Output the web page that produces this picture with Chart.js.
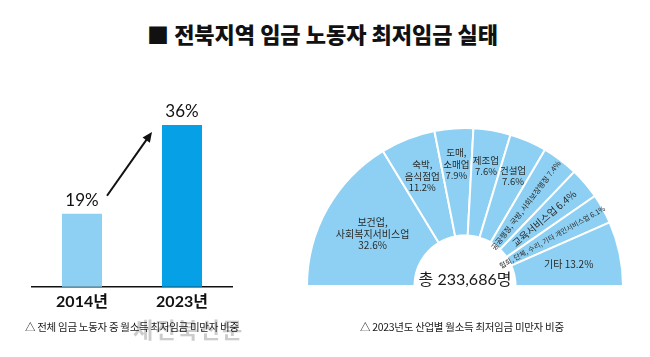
<!DOCTYPE html>
<html><head><meta charset="utf-8">
<script src="https://cdn.jsdelivr.net/npm/chart.js@4"></script>
<style>
html,body{margin:0;padding:0;background:#fff;width:650px;height:357px;overflow:hidden;}
#wrap{position:relative;width:650px;height:357px;}
canvas{position:absolute;}
.t{position:absolute;white-space:nowrap;font-family:"Noto Sans CJK KR","Noto Sans",sans-serif;}
</style></head><body>
<div id="wrap">
<div class="t" id="title" style="left:0;width:645px;text-align:center;top:18px;font-size:22px;font-weight:900;line-height:30px;color:#111;"></div>
<canvas id="bar" width="290" height="357" style="left:0;top:0"></canvas>
<canvas id="pie" width="318" height="160" style="left:306px;top:127px"></canvas>
<div class="t" id="wm" style="left:133px;top:312px;font-size:22px;font-weight:bold;letter-spacing:2px;color:#cccccc;"></div>
<div class="t" id="n1" style="left:25px;top:319px;font-size:10.5px;letter-spacing:-0.3px;color:#1a1a1a;line-height:16px;"></div>
<div class="t" id="n2" style="left:360px;top:319px;font-size:10.5px;letter-spacing:-0.3px;color:#1a1a1a;line-height:16px;"></div>
</div>
<script>
// ---- data ----
const titleText = "■ 전북지역 임금 노동자 최저임금 실태";
const years = ["2014년", "2023년"];
const shareBelowMin = [19, 36];
const industryLines = [
  ["보건업,", "사회복지서비스업"],
  ["숙박,", "음식점업"],
  ["도매,", "소매업"],
  ["제조업"],
  ["건설업"],
  ["공공행정, 국방, 사회보장행정"],
  ["교육서비스업"],
  ["협회, 단체, 수리, 기타 개인서비스업"],
  ["기타"]
];
const industryShares = [32.6, 11.2, 7.9, 7.6, 7.6, 7.4, 6.4, 6.1, 13.2];
const totalWorkers = 233686;
const note1 = "△ 전체 임금 노동자 중 월소득 최저임금 미만자 비중";
const note2 = "△ 2023년도 산업별 월소득 최저임금 미만자 비중";
const watermark = "새전북신문";

// ---- styles ----
const lightBlue = "#8ed0f3";
const darkBlue = "#05a0e6";
const labelMode = ["h","h","h","h","h","r","r","r","hi"];
const labelRadius = [106, 118, 122, 122, 120, 101, 104, 100, 106];
const labelFont = [10, 9.5, 9.5, 9.5, 9.5, 7.5, 10, 7, 10];

document.getElementById('title').textContent = titleText;
document.getElementById('n1').textContent = note1;
document.getElementById('n2').textContent = note2;
document.getElementById('wm').textContent = watermark;

const barDecor = {
  id: 'barDecor',
  afterDatasetsDraw(chart) {
    const ctx = chart.ctx;
    const m = chart.getDatasetMeta(0).data;
    ctx.save();
    ctx.fillStyle = '#111';
    ctx.textAlign = 'center';
    ctx.textBaseline = 'middle';
    ctx.font = '17px Lato, "Noto Sans CJK KR"';
    m.forEach((b, i) => ctx.fillText(shareBelowMin[i] + '%', b.x, b.y - 13));
    // arrow
    const x1 = m[0].x + 25, y1 = m[0].y - 18, x2 = m[1].x - 30, y2 = m[1].y + 7;
    const ang = Math.atan2(y2 - y1, x2 - x1);
    const hl = 11;
    ctx.strokeStyle = '#111';
    ctx.lineWidth = 2;
    ctx.beginPath();
    ctx.moveTo(x1, y1);
    ctx.lineTo(x2 - Math.cos(ang) * hl * 0.8, y2 - Math.sin(ang) * hl * 0.8);
    ctx.stroke();
    ctx.beginPath();
    ctx.moveTo(x2, y2);
    ctx.lineTo(x2 - hl * Math.cos(ang - 0.42), y2 - hl * Math.sin(ang - 0.42));
    ctx.lineTo(x2 - hl * Math.cos(ang + 0.42), y2 - hl * Math.sin(ang + 0.42));
    ctx.closePath();
    ctx.fill();
    ctx.restore();
  }
};

new Chart(document.getElementById('bar'), {
  type: 'bar',
  data: {
    labels: years,
    datasets: [{
      data: shareBelowMin,
      backgroundColor: [lightBlue, darkBlue],
      barPercentage: 0.4,
      categoryPercentage: 1.0
    }]
  },
  options: {
    responsive: false,
    animation: false,
    layout: { padding: { left: 32, right: 58, top: 125, bottom: 41 } },
    plugins: { legend: { display: false }, tooltip: { enabled: false } },
    scales: {
      x: {
        grid: { display: false, drawTicks: false },
        border: { display: true, color: '#111', width: 1.5 },
        ticks: { color: '#111', padding: 5, font: { family: 'Lato, "Noto Sans CJK KR"', size: 16, weight: 'bold' } }
      },
      y: { display: false, min: 5, max: 36 }
    }
  },
  plugins: [barDecor]
});

function fmt(n) { return String(n).replace(/\B(?=(\d{3})+(?!\d))/g, ','); }

const pieLabels = {
  id: 'pieLabels',
  afterDatasetsDraw(chart) {
    const ctx = chart.ctx;
    const arcs = chart.getDatasetMeta(0).data;
    ctx.save();
    ctx.fillStyle = '#2a2a2a';
    ctx.textAlign = 'center';
    ctx.textBaseline = 'middle';
    arcs.forEach((arc, i) => {
      const p = arc.getProps(['x', 'y', 'startAngle', 'endAngle'], true);
      const a = (p.startAngle + p.endAngle) / 2;
      const pct = industryShares[i].toFixed(1) + '%';
      const mode = labelMode[i];
      const r = labelRadius[i];
      ctx.font = labelFont[i] + 'px "Noto Sans CJK KR", Lato';
      if (mode === 'r') {
        ctx.save();
        ctx.translate(p.x + Math.cos(a) * r, p.y + Math.sin(a) * r);
        ctx.rotate(a);
        ctx.fillText(industryLines[i].join(' ') + ' ' + pct, 0, 0);
        ctx.restore();
      } else {
        const lines = mode === 'hi' ? [industryLines[i].join(' ') + ' ' + pct] : industryLines[i].concat([pct]);
        const cx = p.x + Math.cos(a) * r, cy = p.y + Math.sin(a) * r;
        const lh = 11.5;
        lines.forEach((ln, k) => ctx.fillText(ln, cx, cy + (k - (lines.length - 1) / 2) * lh));
      }
    });
    const c = arcs[0];
    ctx.fillStyle = '#1a1a1a';
    ctx.font = '16px Lato, "Noto Sans CJK KR"';
    ctx.textBaseline = 'alphabetic';
    ctx.fillText('총 ' + fmt(totalWorkers) + '명', c.x, c.y - 1);
    ctx.restore();
  }
};

new Chart(document.getElementById('pie'), {
  type: 'doughnut',
  data: {
    labels: industryLines.map(l => l.join(' ')),
    datasets: [{
      data: industryShares,
      backgroundColor: lightBlue,
      borderColor: '#ffffff',
      borderWidth: 2
    }]
  },
  options: {
    responsive: false,
    animation: false,
    rotation: -90,
    circumference: 180,
    cutout: '32%',
    layout: { padding: 0 },
    plugins: { legend: { display: false }, tooltip: { enabled: false } }
  },
  plugins: [pieLabels]
});
</script>
</body></html>
